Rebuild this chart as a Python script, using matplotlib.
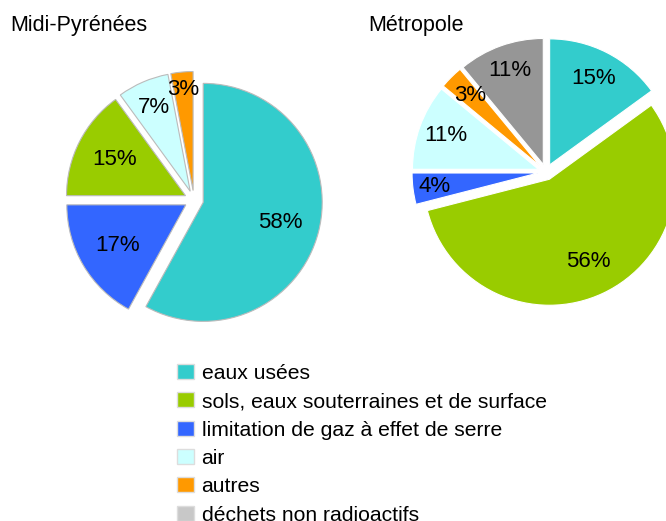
import matplotlib
matplotlib.use('Agg')
import matplotlib.pyplot as plt
import numpy as np
from matplotlib.patches import Patch

plt.rcParams['font.family'] = ['Liberation Sans', 'DejaVu Sans']

# categories and colours
categories = ['eaux usées', 'sols, eaux souterraines et de surface',
              'limitation de gaz à effet de serre', 'air', 'autres',
              'déchets non radioactifs']
legend_colors = ['#33CCCC', '#99CC00', '#3366FF', '#CCFFFF', '#FF9900', '#C8C8C8']

# Midi-Pyrénées, clockwise from the top
left_cats = ['eaux usées', 'limitation de gaz à effet de serre',
             'sols, eaux souterraines et de surface', 'air', 'autres']
left_vals = [58, 17, 15, 7, 3]
left_colors = ['#33CCCC', '#3366FF', '#99CC00', '#CCFFFF', '#FF9900']

# Métropole, clockwise from the top
right_cats = ['eaux usées', 'sols, eaux souterraines et de surface',
              'limitation de gaz à effet de serre', 'air', 'autres',
              'déchets non radioactifs']
right_vals = [15, 56, 4, 11, 3, 11]
right_colors = ['#33CCCC', '#99CC00', '#3366FF', '#CCFFFF', '#FF9900', '#969696']

fig = plt.figure(figsize=(6.66, 5.21), dpi=100)
ax = fig.add_axes([0, 0, 1, 1])


def draw_pie(vals, colors, center, radius, expl, dists, edge):
    # explode is in data units here
    wedges, texts = ax.pie(vals, colors=colors, startangle=90, counterclock=False,
                           center=center, radius=radius,
                           explode=[expl] * len(vals),
                           wedgeprops=dict(edgecolor=edge, linewidth=0.8),
                           frame=True)
    for w, v, d in zip(wedges, vals, dists):
        ang = np.deg2rad((w.theta1 + w.theta2) / 2)
        cx, cy = w.center
        ax.text(cx + d * radius * np.cos(ang), cy + d * radius * np.sin(ang),
                f'{v}%', ha='center', va='center', fontsize=16, color='black')


draw_pie(left_vals, left_colors, (194, 321), 119, 9.5,
         [0.67, 0.67, 0.67, 0.77, 0.85], '#BBBBBB')
draw_pie(right_vals, right_colors, (546, 349), 126, 8,
         [0.77, 0.72, 0.83, 0.78, 0.79, 0.79], 'white')

ax.set_xlim(0, 666)
ax.set_ylim(0, 521)
ax.set_aspect('equal')
ax.axis('off')

ax.text(10, 496, 'Midi-Pyrénées', fontsize=15.5, ha='left', va='center')
ax.text(368, 496, 'Métropole', fontsize=15.5, ha='left', va='center')

# legend runs off the bottom edge, as in the original
handles = [Patch(facecolor=c, edgecolor='#DDDDDD') for c in legend_colors]
ax.legend(handles, categories, loc='upper left', bbox_to_anchor=(177 / 666, 1 - 364 / 521),
          frameon=False, fontsize=15.25, handlelength=0.78, handleheight=0.72,
          handletextpad=0.38, labelspacing=0.44, borderpad=0, borderaxespad=0)

fig.savefig('out.png', dpi=100)
